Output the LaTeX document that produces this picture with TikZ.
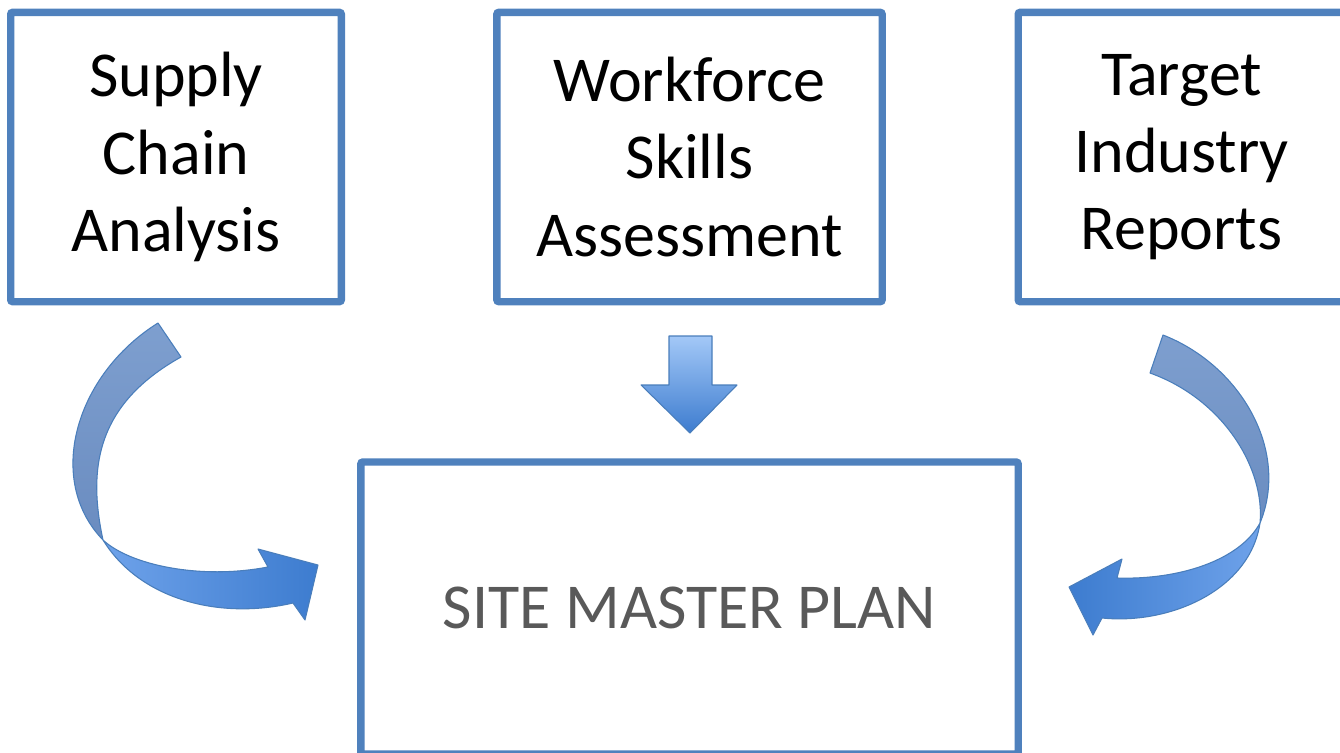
\documentclass[tikz,border=0pt]{standalone}
\usepackage{fontspec}
\setmainfont{Carlito}
\usetikzlibrary{positioning}
\definecolor{boxblue}{HTML}{4F81BD}
\definecolor{lineblue}{HTML}{4A7EBB}
\definecolor{plangray}{HTML}{595959}
\definecolor{topblue}{HTML}{7E9FCF}
\definecolor{midblue}{HTML}{6A8CC0}
\definecolor{lightblue}{HTML}{6EA2EA}
\definecolor{deepblue}{HTML}{3D7CCF}
\definecolor{paleblue}{HTML}{A3C8F7}

\begin{document}
\begin{tikzpicture}[x=0.75pt,y=-0.75pt,
  inbox/.style={draw=boxblue,line width=5.5pt,rounded corners=1.5pt,fill=white,
    align=center,inner sep=0pt,minimum height=217pt,font=\fontsize{48}{58}\selectfont},
  ribbon/.style={draw=lineblue,line width=0.8pt,line join=round}]
\useasboundingbox (0,0) rectangle (1340,753);
\clip (0,0) rectangle (1340,753);
% Sources
\foreach \n/\x/\w/\txt in {supply/176/248pt/{Supply\\Chain\\Analysis},
    skills/689.5/289pt/{Workforce\\Skills\\Assessment},
    reports/1181.5/245pt/{Target\\Industry\\Reports}} {
  \node[inbox,minimum width=\w] (\n) at (\x,157) {\txt};
}
% Plan
\node[inbox,minimum width=493pt,minimum height=219pt,text=plangray] (plan) at (689.5,608) {SITE MASTER PLAN};
% Left curved arrow
\draw[ribbon,top color=topblue,bottom color=midblue] (158,323) .. controls (75,375) and (45,480) .. (103,540)
  .. controls (88,470) and (95,405) .. (181,357) -- cycle;
\draw[ribbon,left color=lightblue,right color=deepblue] (103,540) .. controls (140,600) and (220,620) .. (293,603)
  -- (305,620) -- (318,565) -- (258,549) -- (268,567) .. controls (200,580) and (130,565) .. (103,540) -- cycle;
% Middle arrow
\draw[ribbon,top color=paleblue,bottom color=deepblue] (669,336) -- (712,336) -- (712,385) -- (737,385)
  -- (690,433) -- (641,385) -- (669,385) -- cycle;
% Right curved arrow
\draw[ribbon,top color=topblue,bottom color=midblue] (1163,335) .. controls (1240,365) and (1290,450) .. (1260,523)
  .. controls (1265,470) and (1225,400) .. (1150,373) -- cycle;
\draw[ribbon,left color=deepblue,right color=lightblue] (1260,523) .. controls (1250,590) and (1170,625) .. (1102,618)
  -- (1093,635) -- (1069,587) -- (1122,559) -- (1117,578) .. controls (1180,580) and (1240,560) .. (1260,523) -- cycle;
\end{tikzpicture}
\end{document}
